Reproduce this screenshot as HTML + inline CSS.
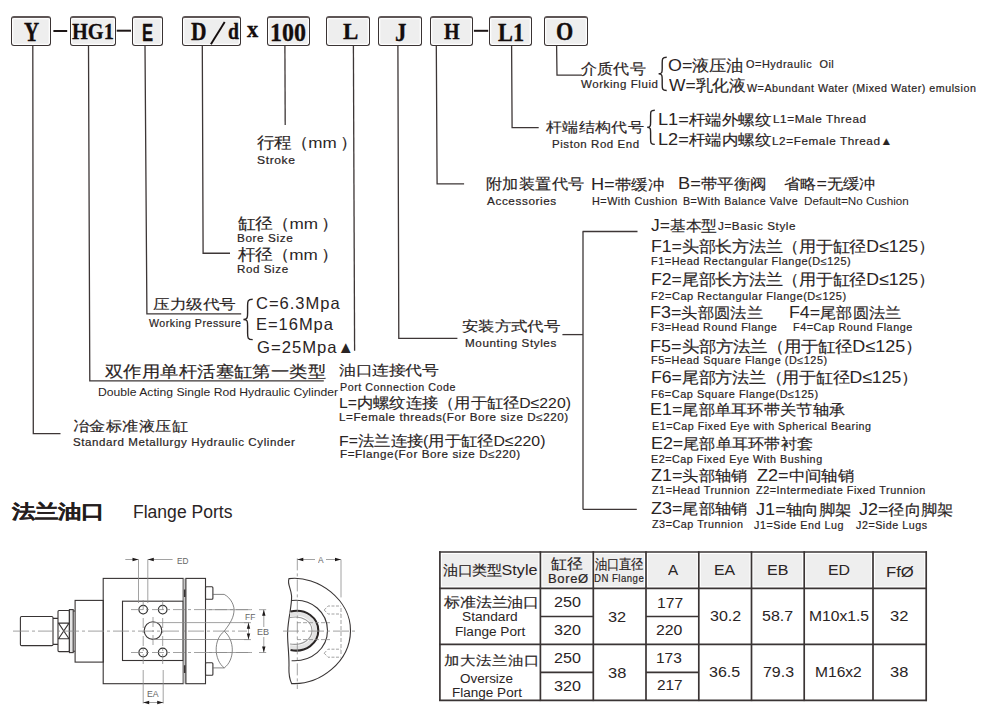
<!DOCTYPE html>
<html><head><meta charset="utf-8"><style>
html,body{margin:0;padding:0;background:#fff;}
body{width:1000px;height:712px;position:relative;overflow:hidden;}
.c{font-size:0.91em;-webkit-text-stroke:0.15px #2a2424;}
.c i{display:inline-block;width:1em;font-style:normal;text-align:center;}
.t{position:absolute;white-space:nowrap;line-height:1;transform-origin:0 0;}
.bx{position:absolute;box-sizing:border-box;border:1.5px solid #3a3333;border-top:2px solid #5e5656;border-radius:3px;background:#eeeeee;box-shadow:inset 0 0 0 1.3px #fdfdfd;}
svg{position:absolute;left:0;top:0;}
</style></head><body>
<div class="bx" style="left:11.2px;top:16.1px;width:39.6px;height:29.5px"></div>
<div class="bx" style="left:70.0px;top:16.1px;width:46.2px;height:29.5px"></div>
<div class="bx" style="left:132.3px;top:16.1px;width:30.6px;height:29.5px"></div>
<div class="bx" style="left:182.0px;top:16.1px;width:58.5px;height:29.5px"></div>
<div class="bx" style="left:266.7px;top:16.1px;width:43.5px;height:29.5px"></div>
<div class="bx" style="left:326.4px;top:16.1px;width:43.2px;height:29.5px"></div>
<div class="bx" style="left:377.9px;top:16.1px;width:43.7px;height:29.5px"></div>
<div class="bx" style="left:430.4px;top:16.1px;width:42.9px;height:29.5px"></div>
<div class="bx" style="left:489.2px;top:16.1px;width:42.6px;height:29.5px"></div>
<div class="bx" style="left:544.4px;top:16.1px;width:43.3px;height:29.5px"></div>
<svg width="1000" height="712" viewBox="0 0 1000 712">
<g fill="#1e1717"><rect x="53.4" y="30" width="13.8" height="2"/><rect x="116.7" y="29.7" width="14.3" height="2"/><rect x="473.9" y="29.8" width="14.3" height="2"/></g>
<line x1="210.9" y1="44.3" x2="224.7" y2="21.9" stroke="#140d0d" stroke-width="1.9"/>
<g fill="none" stroke="#3d3636" stroke-width="1.3"><path d="M32.8,45.6 L33.3,433.7 H60.5"/><path d="M88.5,45.6 L89.8,380.9 H323.8"/><path d="M145,45.6 L146.9,313.8 H241.2"/><path d="M202.3,45.6 L203.1,253.25 H230"/><path d="M284.9,45.6 L285.2,125"/><path d="M353.4,45.6 L354.6,350.8"/><path d="M397.9,45.6 L398.8,338.4 H457.4"/><path d="M436.3,45.6 L437.1,183.9 H464.1"/><path d="M511.6,45.6 L512.1,127.65 H538.7"/><path d="M556.6,45.6 L557,75.1 H581.9"/><path d="M583.0,231.5 V509.4"/><path d="M582.6,231.5 H637.5"/><path d="M583.0,509.4 H636.8"/><path d="M562.4,334.6 H583.0"/></g>
<g fill="none" stroke="#2a2424" stroke-width="1.4">
<path d="M666.7,57.2 C662.2,57.2 662.2,58.9 662.2,62.9 L662.2,68.2 C662.2,72.1 662.2,73.8 658.6,73.8 C662.2,73.8 662.2,75.6 662.2,79.5 L662.2,84.8 C662.2,88.8 662.2,90.5 666.7,90.5"/>
<path d="M654.8,110.2 C650.6,110.2 650.6,111.8 650.6,115.5 L650.6,122.0 C650.6,125.7 650.6,127.3 647.2,127.3 C650.6,127.3 650.6,128.9 650.6,132.6 L650.6,139.1 C650.6,142.8 650.6,144.4 654.8,144.4"/>
<path d="M252.7,299.3 C247.6,299.3 247.6,301.3 247.6,305.8 L247.6,312.9 C247.6,317.5 247.6,319.5 243.4,319.5 C247.6,319.5 247.6,321.4 247.6,326.0 L247.6,333.1 C247.6,337.6 247.6,339.6 252.7,339.6"/>
</g>
<g fill="#eeeeee">
<rect x="441.9" y="554.0" width="96.5" height="32.3"/>
<rect x="542.4" y="554.0" width="48.9" height="32.3"/>
<rect x="595.3" y="554.0" width="48.7" height="32.3"/>
<rect x="648.0" y="554.0" width="48.8" height="32.3"/>
<rect x="700.8" y="554.0" width="48.7" height="32.3"/>
<rect x="753.5" y="554.0" width="48.7" height="32.3"/>
<rect x="806.2" y="554.0" width="64.8" height="32.3"/>
<rect x="875.0" y="554.0" width="49.2" height="32.3"/>
</g>
<g stroke="#3a3434" stroke-width="1.7" fill="none">
<line x1="439.9" y1="551.2" x2="439.9" y2="701.1"/>
<line x1="540.4" y1="551.2" x2="540.4" y2="701.1"/>
<line x1="593.3" y1="551.2" x2="593.3" y2="701.1"/>
<line x1="646.0" y1="551.2" x2="646.0" y2="701.1"/>
<line x1="698.8" y1="551.2" x2="698.8" y2="701.1"/>
<line x1="751.5" y1="551.2" x2="751.5" y2="701.1"/>
<line x1="804.2" y1="551.2" x2="804.2" y2="701.1"/>
<line x1="873.0" y1="551.2" x2="873.0" y2="701.1"/>
<line x1="926.2" y1="551.2" x2="926.2" y2="701.1"/>
<line x1="439.1" y1="552.0" x2="927.0" y2="552.0"/>
<line x1="439.1" y1="588.3" x2="927.0" y2="588.3"/>
<line x1="439.1" y1="644.4" x2="927.0" y2="644.4"/>
<line x1="439.1" y1="700.3" x2="927.0" y2="700.3"/>
<line x1="540.4" y1="616.5" x2="593.3" y2="616.5"/>
<line x1="646.0" y1="616.5" x2="698.8" y2="616.5"/>
<line x1="540.4" y1="672.3" x2="593.3" y2="672.3"/>
<line x1="646.0" y1="672.3" x2="698.8" y2="672.3"/>
</g>
<g fill="none" stroke="#383434" stroke-width="1.1">
<rect x="20.4" y="616.5" width="32.6" height="29.1" rx="1.2"/>
<path d="M53,618.4 H58 M53,644.4 H58"/>
<rect x="58" y="610.5" width="11.4" height="41.1" rx="1"/>
<path d="M58,623.1 H69.4 M58,638.7 H69.4 M58.5,623.1 L69,638.7 M69,623.1 L58.5,638.7"/>
<rect x="69.4" y="609.6" width="3.8" height="43" fill="#e4e4e4"/>
<path d="M73.2,611 H75.1 M73.2,651.2 H75.1"/>
<rect x="75.1" y="600.4" width="28.2" height="61.7"/>
<rect x="103.2" y="578.4" width="80" height="105.3"/>
<rect x="122.5" y="601.2" width="60.7" height="59.3"/>
<rect x="183.6" y="578.4" width="2.2" height="105.3" fill="#c8c8c8" stroke="none"/>
<path d="M184.7,589.4 V597 M184.7,665.3 V672.9" stroke-width="1.6"/>
<rect x="185.9" y="578.4" width="19.6" height="105.3"/>
<rect x="205.5" y="586.7" width="7.4" height="12.5" rx="1"/>
<rect x="205.5" y="662.8" width="7.4" height="12.5" rx="1"/>
<circle cx="143.2" cy="609.6" r="4.3" stroke-width="1.2" stroke="#333"/>
<circle cx="143.2" cy="652.5" r="4.3" stroke-width="1.2" stroke="#333"/>
<circle cx="162.7" cy="609.6" r="4.3" stroke-width="1.2" stroke="#333"/>
<circle cx="162.7" cy="652.5" r="4.3" stroke-width="1.2" stroke="#333"/>
<circle cx="153" cy="630.6" r="8.8" stroke-width="1.1"/>
<path d="M212.9,594.4 H224.2 C231,598 235,606 233.9,612.2 C233,620 228,626 224.2,631.2 C235,640 235,660 224.2,667.9 C214,660 213,640 224.2,631.2 M224.2,667.9 H212.9" stroke="#666" stroke-width="0.8"/>
<path d="M289,578.6 C318,575 351,600 350.5,631 C350,662 320,685 291.6,683.6 C288,676 289,670 289,664.8 C289,650 287,640 287.7,631 C288,620 292,605 291.6,596 C291,588 287,584 289,578.6 Z"/>
<path d="M291.6,600.5 C312,598 327.5,613 327.5,630.6 C327.5,648 312,662 291.6,660.7"/>
<path d="M290,614.5 C305,611 315,620 315,630.6 C315,641 305,650 290,647" stroke-width="4" stroke="#e3e3e3"/>
<path d="M290.5,611.5 C306,608 318.3,618 318.3,630.6 C318.3,643 306,653 290.5,650" stroke-width="2.1" stroke="#2a2626"/>
<path d="M290,617.5 C303,615 312,622 312,630.6 C312,639 303,646 290,644" stroke="#999"/>
</g>
<g fill="none" stroke="#8a8a8a" stroke-width="0.8">
<path d="M13,631.1 H247 M283,631.1 H356" stroke-dasharray="16,3,3,3"/>
<path d="M131,609.6 H252 M131,652.5 H252" stroke-dasharray="12,3,3,3"/>
<path d="M153,622.6 H249.3 M153,639.5 H249.3 M205,609.7 H250.9 M205,652.5 H250.9"/>
<path d="M143.2,600 V665 M162.7,600 V665 M153,617 V645" stroke-dasharray="10,3,2,3"/>
<path d="M138.5,559.5 V603 M147.8,559.5 V603 M125.3,559.5 H138.5 M147.8,559.5 H172.6"/>
<path d="M143.2,670 V703.5 M163.2,670 V703.5 M143.2,702.5 H163.2"/>
<path d="M263.8,609.7 V627 M263.8,637 V652.5 M259,609.7 H266.2 M259,652.5 H266.2 M248.5,622.7 V639.6 M244,622.7 H251 M244,639.6 H251"/>
<path d="M297.3,558.4 V689" stroke-dasharray="12,3,3,3"/>
<path d="M341,559.5 V597.4 M297.3,559.5 H315 M326,559.5 H341"/>
<path d="M341,608 V655 M297,622.7 H330 M297,639.6 H330" stroke-dasharray="4,2"/>
<path d="M324.2,610 L328,606 H341 M324.2,610 L328,614 H341 M324.2,653.2 L328,649.2 H341 M324.2,653.2 L328,657.2 H341" stroke-dasharray="3,1.5"/>
</g>
<g fill="#1e1a1a">
<path d="M138.5,559.5 L132.5,557.8 V561.2 Z M147.8,559.5 L153.8,557.8 V561.2 Z"/>
<path d="M143.2,702.5 L149.2,700.8 V704.2 Z M163.2,702.5 L157.2,700.8 V704.2 Z"/>
<path d="M263.8,609.7 L262.1,615.7 H265.5 Z M263.8,652.5 L262.1,646.5 H265.5 Z"/>
<path d="M248.5,622.7 L246.8,628.7 H250.2 Z M248.5,639.6 L246.8,633.6 H250.2 Z"/>
<path d="M297.3,559.5 L303.3,557.8 V561.2 Z M341,559.5 L335,557.8 V561.2 Z"/>
</g>
</svg>
<div id="bY" lang="zh-CN" class="t" style="left:24.38px;top:17.84px;font-size:24.00px;font-family:'Liberation Serif',serif;font-weight:bold;color:#140d0d;-webkit-text-stroke:0.3px #140d0d;transform:scale(0.8773,1.1268);">Y</div>
<div id="bHG" lang="zh-CN" class="t" style="left:72.33px;top:18.53px;font-size:24.00px;font-family:'Liberation Serif',serif;font-weight:bold;color:#140d0d;-webkit-text-stroke:0.3px #140d0d;transform:scale(0.8476,0.9873);">HG1</div>
<div id="bE" class="t" style="left:142.30px;top:20.72px;font-size:24.00px;font-family:'Liberation Sans',sans-serif;font-weight:bold;color:#140d0d;-webkit-text-stroke:0.3px #140d0d;transform:scale(0.6927,1.0160);">E</div>
<div id="bD" lang="zh-CN" class="t" style="left:191.25px;top:19.31px;font-size:24.00px;font-family:'Liberation Serif',serif;font-weight:bold;color:#140d0d;-webkit-text-stroke:0.3px #140d0d;transform:scale(0.8964,1.0402);">D</div>
<div id="bd" lang="zh-CN" class="t" style="left:227.73px;top:19.09px;font-size:24.00px;font-family:'Liberation Serif',serif;font-weight:bold;color:#140d0d;-webkit-text-stroke:0.3px #140d0d;transform:scale(0.8199,0.9871);">d</div>
<div id="bx" lang="zh-CN" class="t" style="left:247.41px;top:16.73px;font-size:20.00px;font-family:'Liberation Serif',serif;font-weight:bold;color:#140d0d;-webkit-text-stroke:0.3px #140d0d;transform:scale(1.1176,1.1807);">x</div>
<div id="b100" lang="zh-CN" class="t" style="left:269.66px;top:20.52px;font-size:24.00px;font-family:'Liberation Serif',serif;font-weight:bold;color:#140d0d;-webkit-text-stroke:0.3px #140d0d;transform:scale(0.9985,1.0063);">100</div>
<div id="bL" lang="zh-CN" class="t" style="left:342.74px;top:19.41px;font-size:24.00px;font-family:'Liberation Serif',serif;font-weight:bold;color:#140d0d;-webkit-text-stroke:0.3px #140d0d;transform:scale(0.9590,0.9958);">L</div>
<div id="bJ" lang="zh-CN" class="t" style="left:395.02px;top:20.06px;font-size:24.00px;font-family:'Liberation Serif',serif;font-weight:bold;color:#140d0d;-webkit-text-stroke:0.3px #140d0d;transform:scale(0.9535,1.0486);">J</div>
<div id="bH" lang="zh-CN" class="t" style="left:443.81px;top:19.41px;font-size:24.00px;font-family:'Liberation Serif',serif;font-weight:bold;color:#140d0d;-webkit-text-stroke:0.3px #140d0d;transform:scale(0.8377,0.9958);">H</div>
<div id="bL1" lang="zh-CN" class="t" style="left:498.12px;top:19.00px;font-size:24.00px;font-family:'Liberation Serif',serif;font-weight:bold;color:#140d0d;-webkit-text-stroke:0.3px #140d0d;transform:scale(0.9305,1.0802);">L1</div>
<div id="bO" lang="zh-CN" class="t" style="left:556.08px;top:17.87px;font-size:24.00px;font-family:'Liberation Serif',serif;font-weight:bold;color:#140d0d;-webkit-text-stroke:0.3px #140d0d;transform:scale(0.9251,1.0768);">O</div>
<div id="fl_cn" class="t" style="left:580.67px;top:60.23px;font-size:16.00px;font-family:'Liberation Sans',sans-serif;color:#2a2424;transform:scale(1.1170,1.0443);"><span class="c" style="font-size:0.910em"><i>介</i><i>质</i><i>代</i><i>号</i></span></div>
<div id="fl_en" class="t" style="left:581.25px;top:79.07px;font-size:11.00px;font-family:'Liberation Sans',sans-serif;color:#2a2424;letter-spacing:0.05em;-webkit-text-stroke:0.2px #2a2424;transform:scale(1.0442,1.0000);">Working Fluid</div>
<div id="o_cn" class="t" style="left:668.17px;top:57.23px;font-size:16.50px;font-family:'Liberation Sans',sans-serif;color:#2a2424;transform:scale(1.0820,1.0000);">O=<span class="c" style="font-size:0.950em"><i>液</i><i>压</i><i>油</i></span></div>
<div id="o_en" class="t" style="left:746.30px;top:59.43px;font-size:11.00px;font-family:'Liberation Sans',sans-serif;color:#2a2424;letter-spacing:0.05em;-webkit-text-stroke:0.2px #2a2424;transform:scale(0.9905,1.0000);">O=Hydraulic&nbsp; Oil</div>
<div id="w_cn" class="t" style="left:669.45px;top:77.46px;font-size:16.50px;font-family:'Liberation Sans',sans-serif;color:#2a2424;transform:scale(1.0559,1.0000);">W=<span class="c" style="font-size:0.950em"><i>乳</i><i>化</i><i>液</i></span></div>
<div id="w_en" class="t" style="left:747.07px;top:83.24px;font-size:10.50px;font-family:'Liberation Sans',sans-serif;color:#2a2424;letter-spacing:0.05em;-webkit-text-stroke:0.2px #2a2424;transform:scale(1.0176,1.0000);">W=Abundant Water (Mixed Water) emulsion</div>
<div id="re_cn" class="t" style="left:546.02px;top:119.45px;font-size:15.50px;font-family:'Liberation Sans',sans-serif;color:#2a2424;transform:scale(1.1597,1.0098);"><span class="c" style="font-size:0.910em"><i>杆</i><i>端</i><i>结</i><i>构</i><i>代</i><i>号</i></span></div>
<div id="re_en" class="t" style="left:551.67px;top:138.85px;font-size:11.30px;font-family:'Liberation Sans',sans-serif;color:#2a2424;letter-spacing:0.05em;-webkit-text-stroke:0.2px #2a2424;transform:scale(1.0144,1.0000);">Piston Rod End</div>
<div id="l1_cn" class="t" style="left:658.33px;top:110.66px;font-size:16.50px;font-family:'Liberation Sans',sans-serif;color:#2a2424;transform:scale(1.0968,1.0000);">L1=<span class="c" style="font-size:0.910em"><i>杆</i><i>端</i><i>外</i><i>螺</i><i>纹</i></span></div>
<div id="l1_en" class="t" style="left:772.99px;top:114.10px;font-size:11.30px;font-family:'Liberation Sans',sans-serif;color:#2a2424;letter-spacing:0.05em;-webkit-text-stroke:0.2px #2a2424;transform:scale(1.0375,1.0000);">L1=Male Thread</div>
<div id="l2_cn" class="t" style="left:658.33px;top:130.56px;font-size:16.50px;font-family:'Liberation Sans',sans-serif;color:#2a2424;transform:scale(1.0968,1.0000);">L2=<span class="c" style="font-size:0.910em"><i>杆</i><i>端</i><i>内</i><i>螺</i><i>纹</i></span></div>
<div id="l2_en" class="t" style="left:772.37px;top:135.64px;font-size:11.00px;font-family:'Liberation Sans',sans-serif;color:#2a2424;letter-spacing:0.05em;-webkit-text-stroke:0.2px #2a2424;transform:scale(1.0660,1.0000);">L2=Female Thread▲</div>
<div id="st_cn" class="t" style="left:257.16px;top:134.56px;font-size:15.50px;font-family:'Liberation Sans',sans-serif;color:#2a2424;transform:scale(1.1007,1.0000);"><span class="c" style="font-size:1.000em"><i>行</i><i>程</i><i>（</i></span>mm&thinsp;<span class="c" style="font-size:1.000em"><i>）</i></span></div>
<div id="st_en" class="t" style="left:256.99px;top:154.57px;font-size:11.00px;font-family:'Liberation Sans',sans-serif;color:#2a2424;letter-spacing:0.05em;-webkit-text-stroke:0.2px #2a2424;transform:scale(1.0999,1.0000);">Stroke</div>
<div id="ac_cn" class="t" style="left:485.98px;top:175.12px;font-size:15.50px;font-family:'Liberation Sans',sans-serif;color:#2a2424;transform:scale(1.1616,1.0768);"><span class="c" style="font-size:0.910em"><i>附</i><i>加</i><i>装</i><i>置</i><i>代</i><i>号</i></span></div>
<div id="ac_en" class="t" style="left:486.95px;top:196.34px;font-size:10.50px;font-family:'Liberation Sans',sans-serif;color:#2a2424;letter-spacing:0.05em;-webkit-text-stroke:0.2px #2a2424;transform:scale(1.1195,1.0000);">Accessories</div>
<div id="h_cn" class="t" style="left:591.06px;top:175.69px;font-size:16.50px;font-family:'Liberation Sans',sans-serif;color:#2a2424;transform:scale(1.1011,1.0000);">H=<span class="c" style="font-size:0.910em"><i>带</i><i>缓</i><i>冲</i></span></div>
<div id="b_cn" class="t" style="left:677.78px;top:174.84px;font-size:16.50px;font-family:'Liberation Sans',sans-serif;color:#2a2424;transform:scale(1.1034,1.0000);">B=<span class="c" style="font-size:0.910em"><i>带</i><i>平</i><i>衡</i><i>阀</i></span></div>
<div id="d_cn" class="t" style="left:783.51px;top:175.16px;font-size:16.50px;font-family:'Liberation Sans',sans-serif;color:#2a2424;transform:scale(1.0822,1.0000);"><span class="c" style="font-size:0.910em"><i>省</i><i>略</i></span>=<span class="c" style="font-size:0.910em"><i>无</i><i>缓</i><i>冲</i></span></div>
<div id="h_en" class="t" style="left:591.68px;top:196.47px;font-size:11.00px;font-family:'Liberation Sans',sans-serif;color:#2a2424;letter-spacing:0.05em;-webkit-text-stroke:0.2px #2a2424;transform:scale(0.9799,1.0000);">H=With Cushion</div>
<div id="b_en" class="t" style="left:682.61px;top:196.02px;font-size:11.00px;font-family:'Liberation Sans',sans-serif;color:#2a2424;letter-spacing:0.05em;-webkit-text-stroke:0.2px #2a2424;transform:scale(0.9644,1.0000);">B=With Balance Valve</div>
<div id="d_en" class="t" style="left:803.95px;top:196.27px;font-size:11.00px;font-family:'Liberation Sans',sans-serif;color:#2a2424;transform:scale(1.0609,1.0000);">Default=No Cushion</div>
<div id="bo_cn" class="t" style="left:238.46px;top:215.58px;font-size:15.50px;font-family:'Liberation Sans',sans-serif;color:#2a2424;transform:scale(1.1059,1.0000);"><span class="c" style="font-size:1.000em"><i>缸</i><i>径</i><i>（</i></span>mm&thinsp;<span class="c" style="font-size:1.000em"><i>）</i></span></div>
<div id="bo_en" class="t" style="left:237.49px;top:232.83px;font-size:10.80px;font-family:'Liberation Sans',sans-serif;color:#2a2424;letter-spacing:0.05em;-webkit-text-stroke:0.2px #2a2424;transform:scale(1.0890,1.0000);">Bore Size</div>
<div id="ro_cn" class="t" style="left:237.96px;top:246.90px;font-size:15.50px;font-family:'Liberation Sans',sans-serif;color:#2a2424;transform:scale(1.1032,1.0000);"><span class="c" style="font-size:1.000em"><i>杆</i><i>径</i><i>（</i></span>mm&thinsp;<span class="c" style="font-size:1.000em"><i>）</i></span></div>
<div id="ro_en" class="t" style="left:237.44px;top:263.63px;font-size:10.80px;font-family:'Liberation Sans',sans-serif;color:#2a2424;letter-spacing:0.05em;-webkit-text-stroke:0.2px #2a2424;transform:scale(1.0738,1.0000);">Rod Size</div>
<div id="pr_cn" class="t" style="left:153.35px;top:295.81px;font-size:15.50px;font-family:'Liberation Sans',sans-serif;color:#2a2424;transform:scale(1.1708,0.9862);"><span class="c" style="font-size:0.910em"><i>压</i><i>力</i><i>级</i><i>代</i><i>号</i></span></div>
<div id="pr_en" class="t" style="left:148.95px;top:318.12px;font-size:10.90px;font-family:'Liberation Sans',sans-serif;color:#2a2424;letter-spacing:0.05em;-webkit-text-stroke:0.2px #2a2424;transform:scale(0.9723,1.0000);">Working Pressure</div>
<div id="pC" class="t" style="left:256.37px;top:294.84px;font-size:16.50px;font-family:'Liberation Sans',sans-serif;color:#2a2424;letter-spacing:0.06em;transform:scale(1.0005,1.0000);">C=6.3Mpa</div>
<div id="pE" class="t" style="left:256.22px;top:316.44px;font-size:16.50px;font-family:'Liberation Sans',sans-serif;color:#2a2424;letter-spacing:0.06em;transform:scale(0.9987,1.0000);">E=16Mpa</div>
<div id="pG" class="t" style="left:256.68px;top:339.04px;font-size:16.50px;font-family:'Liberation Sans',sans-serif;color:#2a2424;letter-spacing:0.06em;transform:scale(1.0095,1.0000);">G=25Mpa▲</div>
<div id="da_cn" class="t" style="left:105.22px;top:361.57px;font-size:16.50px;font-family:'Liberation Sans',sans-serif;color:#2a2424;transform:scale(1.2282,1.0730);"><span class="c" style="font-size:0.910em"><i>双</i><i>作</i><i>用</i><i>单</i><i>杆</i><i>活</i><i>塞</i><i>缸</i><i>第</i><i>一</i><i>类</i><i>型</i></span></div>
<div id="da_en" class="t" style="left:98.25px;top:386.94px;font-size:10.80px;font-family:'Liberation Sans',sans-serif;color:#2a2424;transform:scale(1.1267,1.0000);">Double Acting Single Rod Hydraulic Cylinder</div>
<div id="sm_cn" class="t" style="left:72.51px;top:417.74px;font-size:16.50px;font-family:'Liberation Sans',sans-serif;color:#2a2424;transform:scale(1.0947,0.9492);"><span class="c" style="font-size:0.910em"><i>冶</i><i>金</i><i>标</i><i>准</i><i>液</i><i>压</i><i>缸</i></span></div>
<div id="sm_en" class="t" style="left:72.81px;top:436.64px;font-size:11.00px;font-family:'Liberation Sans',sans-serif;color:#2a2424;letter-spacing:0.05em;-webkit-text-stroke:0.2px #2a2424;transform:scale(1.0507,1.0000);">Standard Metallurgy Hydraulic Cylinder</div>
<div id="pc_cn" class="t" style="left:339.06px;top:361.95px;font-size:15.50px;font-family:'Liberation Sans',sans-serif;color:#2a2424;transform:scale(1.1717,0.9720);"><span class="c" style="font-size:0.910em"><i>油</i><i>口</i><i>连</i><i>接</i><i>代</i><i>号</i></span></div>
<div id="pc_en" class="t" style="left:339.64px;top:381.63px;font-size:11.00px;font-family:'Liberation Sans',sans-serif;color:#2a2424;letter-spacing:0.05em;-webkit-text-stroke:0.2px #2a2424;transform:scale(0.9721,1.0000);">Port Connection Code</div>
<div id="pl_cn" class="t" style="left:339.41px;top:396.45px;font-size:14.50px;font-family:'Liberation Sans',sans-serif;color:#2a2424;transform:scale(1.0877,1.0000);">L=<span class="c" style="font-size:1.030em"><i>内</i><i>螺</i><i>纹</i><i>连</i><i>接</i><i>（</i><i>用</i><i>于</i><i>缸</i><i>径</i></span>D≤220)</div>
<div id="pl_en" class="t" style="left:339.27px;top:412.08px;font-size:10.50px;font-family:'Liberation Sans',sans-serif;color:#2a2424;letter-spacing:0.05em;-webkit-text-stroke:0.2px #2a2424;transform:scale(1.1070,1.0000);">L=Female threads(For Bore size D≤220)</div>
<div id="pf_cn" class="t" style="left:339.38px;top:434.29px;font-size:14.50px;font-family:'Liberation Sans',sans-serif;color:#2a2424;transform:scale(1.0923,1.0000);">F=<span class="c" style="font-size:1.030em"><i>法</i><i>兰</i><i>连</i><i>接</i></span>(<span class="c" style="font-size:1.030em"><i>用</i><i>于</i><i>缸</i><i>径</i></span>D≤220)</div>
<div id="pf_en" class="t" style="left:339.85px;top:449.49px;font-size:10.50px;font-family:'Liberation Sans',sans-serif;color:#2a2424;letter-spacing:0.05em;-webkit-text-stroke:0.2px #2a2424;transform:scale(1.1088,1.0000);">F=Flange(For Bore size D≤220)</div>
<div id="ms_cn" class="t" style="left:461.74px;top:318.33px;font-size:15.50px;font-family:'Liberation Sans',sans-serif;color:#2a2424;transform:scale(1.1568,0.9831);"><span class="c" style="font-size:0.910em"><i>安</i><i>装</i><i>方</i><i>式</i><i>代</i><i>号</i></span></div>
<div id="ms_en" class="t" style="left:465.43px;top:338.36px;font-size:10.50px;font-family:'Liberation Sans',sans-serif;color:#2a2424;letter-spacing:0.05em;-webkit-text-stroke:0.2px #2a2424;transform:scale(1.1121,1.0000);">Mounting Styles</div>
<div id="mJ_cn" class="t" style="left:650.99px;top:216.77px;font-size:16.50px;font-family:'Liberation Sans',sans-serif;color:#2a2424;transform:scale(1.0542,1.0000);">J=<span class="c" style="font-size:0.910em"><i>基</i><i>本</i><i>型</i></span></div>
<div id="mJ_en" class="t" style="left:718.46px;top:221.01px;font-size:11.30px;font-family:'Liberation Sans',sans-serif;color:#2a2424;letter-spacing:0.05em;-webkit-text-stroke:0.2px #2a2424;transform:scale(1.0354,1.0000);">J=Basic Style</div>
<div id="mF1_cn" class="t" style="left:650.69px;top:238.25px;font-size:16.50px;font-family:'Liberation Sans',sans-serif;color:#2a2424;transform:scale(1.0691,1.0000);">F1=<span class="c" style="font-size:0.950em"><i>头</i><i>部</i><i>长</i><i>方</i><i>法</i><i>兰</i><i>（</i><i>用</i><i>于</i><i>缸</i><i>径</i></span>D≤125<span class="c" style="font-size:0.950em"><i>）</i></span></div>
<div id="mF1_en" class="t" style="left:651.12px;top:256.19px;font-size:10.50px;font-family:'Liberation Sans',sans-serif;color:#2a2424;letter-spacing:0.05em;-webkit-text-stroke:0.2px #2a2424;transform:scale(1.0358,1.0000);">F1=Head Rectangular Flange(D≤125)</div>
<div id="mF2_cn" class="t" style="left:650.69px;top:271.25px;font-size:16.50px;font-family:'Liberation Sans',sans-serif;color:#2a2424;transform:scale(1.0691,1.0000);">F2=<span class="c" style="font-size:0.950em"><i>尾</i><i>部</i><i>长</i><i>方</i><i>法</i><i>兰</i><i>（</i><i>用</i><i>于</i><i>缸</i><i>径</i></span>D≤125<span class="c" style="font-size:0.950em"><i>）</i></span></div>
<div id="mF2_en" class="t" style="left:651.20px;top:290.84px;font-size:10.50px;font-family:'Liberation Sans',sans-serif;color:#2a2424;letter-spacing:0.05em;-webkit-text-stroke:0.2px #2a2424;transform:scale(1.0469,1.0000);">F2=Cap Rectangular Flange(D≤125)</div>
<div id="mF3_cn" class="t" style="left:650.27px;top:304.23px;font-size:16.50px;font-family:'Liberation Sans',sans-serif;color:#2a2424;transform:scale(1.0857,1.0000);">F3=<span class="c" style="font-size:0.910em"><i>头</i><i>部</i><i>圆</i><i>法</i><i>兰</i></span></div>
<div id="mF4_cn" class="t" style="left:789.11px;top:304.01px;font-size:16.50px;font-family:'Liberation Sans',sans-serif;color:#2a2424;transform:scale(1.0785,1.0000);">F4=<span class="c" style="font-size:0.910em"><i>尾</i><i>部</i><i>圆</i><i>法</i><i>兰</i></span></div>
<div id="mF3_en" class="t" style="left:651.20px;top:322.01px;font-size:10.50px;font-family:'Liberation Sans',sans-serif;color:#2a2424;letter-spacing:0.05em;-webkit-text-stroke:0.2px #2a2424;transform:scale(1.0288,1.0000);">F3=Head Round Flange</div>
<div id="mF4_en" class="t" style="left:792.59px;top:322.21px;font-size:10.50px;font-family:'Liberation Sans',sans-serif;color:#2a2424;letter-spacing:0.05em;-webkit-text-stroke:0.2px #2a2424;transform:scale(1.0282,1.0000);">F4=Cap Round Flange</div>
<div id="mF5_cn" class="t" style="left:650.40px;top:337.50px;font-size:16.50px;font-family:'Liberation Sans',sans-serif;color:#2a2424;transform:scale(1.0900,1.0000);">F5=<span class="c" style="font-size:0.950em"><i>头</i><i>部</i><i>方</i><i>法</i><i>兰</i><i>（</i><i>用</i><i>于</i><i>缸</i><i>径</i></span>D≤125<span class="c" style="font-size:0.950em"><i>）</i></span></div>
<div id="mF5_en" class="t" style="left:651.18px;top:354.65px;font-size:10.50px;font-family:'Liberation Sans',sans-serif;color:#2a2424;letter-spacing:0.05em;-webkit-text-stroke:0.2px #2a2424;transform:scale(1.0310,1.0000);">F5=Head Square Flange (D≤125)</div>
<div id="mF6_cn" class="t" style="left:651.19px;top:369.34px;font-size:16.50px;font-family:'Liberation Sans',sans-serif;color:#2a2424;transform:scale(1.0689,1.0000);">F6=<span class="c" style="font-size:0.950em"><i>尾</i><i>部</i><i>方</i><i>法</i><i>兰</i><i>（</i><i>用</i><i>于</i><i>缸</i><i>径</i></span>D≤125<span class="c" style="font-size:0.950em"><i>）</i></span></div>
<div id="mF6_en" class="t" style="left:651.02px;top:389.36px;font-size:10.50px;font-family:'Liberation Sans',sans-serif;color:#2a2424;letter-spacing:0.05em;-webkit-text-stroke:0.2px #2a2424;transform:scale(1.0378,1.0000);">F6=Cap Square Flange(D≤125)</div>
<div id="mE1_cn" class="t" style="left:650.07px;top:401.03px;font-size:16.50px;font-family:'Liberation Sans',sans-serif;color:#2a2424;transform:scale(1.0848,1.0000);">E1=<span class="c" style="font-size:0.910em"><i>尾</i><i>部</i><i>单</i><i>耳</i><i>环</i><i>带</i><i>关</i><i>节</i><i>轴</i><i>承</i></span></div>
<div id="mE1_en" class="t" style="left:651.51px;top:420.71px;font-size:10.60px;font-family:'Liberation Sans',sans-serif;color:#2a2424;letter-spacing:0.05em;-webkit-text-stroke:0.2px #2a2424;transform:scale(1.0088,1.0000);">E1=Cap Fixed Eye with Spherical Bearing</div>
<div id="mE2_cn" class="t" style="left:651.15px;top:434.62px;font-size:16.50px;font-family:'Liberation Sans',sans-serif;color:#2a2424;transform:scale(1.0814,1.0000);">E2=<span class="c" style="font-size:0.910em"><i>尾</i><i>部</i><i>单</i><i>耳</i><i>环</i><i>带</i><i>衬</i><i>套</i></span></div>
<div id="mE2_en" class="t" style="left:650.89px;top:453.50px;font-size:10.60px;font-family:'Liberation Sans',sans-serif;color:#2a2424;letter-spacing:0.05em;-webkit-text-stroke:0.2px #2a2424;transform:scale(1.0135,1.0000);">E2=Cap Fixed Eye With Bushing</div>
<div id="mZ1_cn" class="t" style="left:651.45px;top:467.32px;font-size:16.50px;font-family:'Liberation Sans',sans-serif;color:#2a2424;transform:scale(1.0860,1.0000);">Z1=<span class="c" style="font-size:0.910em"><i>头</i><i>部</i><i>轴</i><i>销</i></span></div>
<div id="mZ2_cn" class="t" style="left:756.72px;top:467.39px;font-size:16.50px;font-family:'Liberation Sans',sans-serif;color:#2a2424;transform:scale(1.0944,1.0000);">Z2=<span class="c" style="font-size:0.910em"><i>中</i><i>间</i><i>轴</i><i>销</i></span></div>
<div id="mZ1_en" class="t" style="left:652.20px;top:485.34px;font-size:10.80px;font-family:'Liberation Sans',sans-serif;color:#2a2424;letter-spacing:0.05em;-webkit-text-stroke:0.2px #2a2424;transform:scale(0.9982,1.0000);">Z1=Head Trunnion</div>
<div id="mZ2_en" class="t" style="left:755.52px;top:485.37px;font-size:10.80px;font-family:'Liberation Sans',sans-serif;color:#2a2424;letter-spacing:0.05em;-webkit-text-stroke:0.2px #2a2424;transform:scale(1.0021,1.0000);">Z2=Intermediate Fixed Trunnion</div>
<div id="mZ3_cn" class="t" style="left:651.45px;top:500.32px;font-size:16.50px;font-family:'Liberation Sans',sans-serif;color:#2a2424;transform:scale(1.0860,1.0000);">Z3=<span class="c" style="font-size:0.910em"><i>尾</i><i>部</i><i>轴</i><i>销</i></span></div>
<div id="mJ1_cn" class="t" style="left:755.62px;top:500.81px;font-size:16.50px;font-family:'Liberation Sans',sans-serif;color:#2a2424;transform:scale(1.0998,1.0000);">J1=<span class="c" style="font-size:0.910em"><i>轴</i><i>向</i><i>脚</i><i>架</i></span></div>
<div id="mJ2_cn" class="t" style="left:859.33px;top:500.51px;font-size:16.50px;font-family:'Liberation Sans',sans-serif;color:#2a2424;transform:scale(1.0877,1.0000);">J2=<span class="c" style="font-size:0.910em"><i>径</i><i>向</i><i>脚</i><i>架</i></span></div>
<div id="mZ3_en" class="t" style="left:651.71px;top:519.17px;font-size:10.80px;font-family:'Liberation Sans',sans-serif;color:#2a2424;letter-spacing:0.05em;-webkit-text-stroke:0.2px #2a2424;transform:scale(0.9968,1.0000);">Z3=Cap Trunnion</div>
<div id="mJ1_en" class="t" style="left:754.00px;top:519.69px;font-size:10.80px;font-family:'Liberation Sans',sans-serif;color:#2a2424;letter-spacing:0.05em;-webkit-text-stroke:0.2px #2a2424;transform:scale(0.9936,1.0000);">J1=Side End Lug</div>
<div id="mJ2_en" class="t" style="left:856.29px;top:519.65px;font-size:10.80px;font-family:'Liberation Sans',sans-serif;color:#2a2424;letter-spacing:0.05em;-webkit-text-stroke:0.2px #2a2424;transform:scale(0.9915,1.0000);">J2=Side Lugs</div>
<div id="fp_cn" lang="zh-CN" class="t" style="left:11.85px;top:501.03px;font-size:20.00px;font-family:'Liberation Serif',serif;font-weight:bold;color:#140d0d;-webkit-text-stroke:0.3px #140d0d;transform:scale(1.2691,1.0254);"><span class="c" style="font-size:0.910em"><i>法</i><i>兰</i><i>油</i><i>口</i></span></div>
<div id="fp_en" class="t" style="left:133.00px;top:504.36px;font-size:17.50px;font-family:'Liberation Sans',sans-serif;color:#2a2424;transform:scale(1.0023,1.0000);">Flange Ports</div>
<div id="dED" class="t" style="left:177.03px;top:556.60px;font-size:8.80px;font-family:'Liberation Sans',sans-serif;color:#666;transform:scale(0.9351,1.0000);">ED</div>
<div id="dEA" class="t" style="left:147.39px;top:689.80px;font-size:8.80px;font-family:'Liberation Sans',sans-serif;color:#666;transform:scale(0.9932,1.0000);">EA</div>
<div id="dEB" class="t" style="left:257.25px;top:628.00px;font-size:8.80px;font-family:'Liberation Sans',sans-serif;color:#666;transform:scale(1.0321,1.0000);">EB</div>
<div id="dFF" class="t" style="left:244.61px;top:613.55px;font-size:8.20px;font-family:'Liberation Sans',sans-serif;color:#666;transform:scale(1.0274,1.0000);">FF</div>
<div id="dA" class="t" style="left:318.12px;top:556.88px;font-size:8.20px;font-family:'Liberation Sans',sans-serif;color:#666;transform:scale(1.0190,1.0000);">A</div>
<div id="th1" class="t" style="left:442.98px;top:562.17px;font-size:15.00px;font-family:'Liberation Sans',sans-serif;color:#2a2424;transform:scale(1.0743,1.0000);"><span class="c" style="font-size:0.910em"><i>油</i><i>口</i><i>类</i><i>型</i></span>Style</div>
<div id="th2a" class="t" style="left:550.86px;top:555.40px;font-size:15.00px;font-family:'Liberation Sans',sans-serif;color:#2a2424;transform:scale(1.1414,1.0836);"><span class="c" style="font-size:0.910em"><i>缸</i><i>径</i></span></div>
<div id="th2b" class="t" style="left:547.69px;top:572.56px;font-size:12.00px;font-family:'Liberation Sans',sans-serif;color:#2a2424;letter-spacing:0.05em;-webkit-text-stroke:0.2px #2a2424;transform:scale(1.0841,1.0000);">BoreØ</div>
<div id="th3a" class="t" style="left:595.27px;top:557.29px;font-size:12.50px;font-family:'Liberation Sans',sans-serif;color:#2a2424;transform:scale(1.0579,1.1983);"><span class="c" style="font-size:0.910em"><i>油</i><i>口</i><i>直</i><i>径</i></span></div>
<div id="th3b" class="t" style="left:594.48px;top:572.99px;font-size:11.50px;font-family:'Liberation Sans',sans-serif;color:#2a2424;letter-spacing:0.05em;-webkit-text-stroke:0.2px #2a2424;transform:scale(0.8355,1.0000);">DN Flange</div>
<div id="thA" class="t" style="left:667.52px;top:562.95px;font-size:14.50px;font-family:'Liberation Sans',sans-serif;color:#2a2424;transform:scale(1.0514,1.0000);">A</div>
<div id="thEA" class="t" style="left:714.38px;top:563.04px;font-size:14.50px;font-family:'Liberation Sans',sans-serif;color:#2a2424;transform:scale(1.0942,1.0000);">EA</div>
<div id="thEB" class="t" style="left:766.71px;top:563.04px;font-size:14.50px;font-family:'Liberation Sans',sans-serif;color:#2a2424;transform:scale(1.1032,1.0000);">EB</div>
<div id="thED" class="t" style="left:827.87px;top:563.04px;font-size:14.50px;font-family:'Liberation Sans',sans-serif;color:#2a2424;transform:scale(1.0947,1.0000);">ED</div>
<div id="thFf" class="t" style="left:886.16px;top:564.54px;font-size:14.50px;font-family:'Liberation Sans',sans-serif;color:#2a2424;transform:scale(1.1492,1.0000);">FfØ</div>
<div id="r1a" class="t" style="left:444.46px;top:594.15px;font-size:15.00px;font-family:'Liberation Sans',sans-serif;color:#2a2424;transform:scale(1.1628,1.0135);"><span class="c" style="font-size:0.910em"><i>标</i><i>准</i><i>法</i><i>兰</i><i>油</i><i>口</i></span></div>
<div id="r1b" class="t" style="left:462.36px;top:611.34px;font-size:12.50px;font-family:'Liberation Sans',sans-serif;color:#2a2424;transform:scale(1.0975,1.0000);">Standard</div>
<div id="r1c" class="t" style="left:455.13px;top:625.74px;font-size:12.50px;font-family:'Liberation Sans',sans-serif;color:#2a2424;transform:scale(1.0878,1.0000);">Flange Port</div>
<div id="r2a" class="t" style="left:444.11px;top:651.77px;font-size:15.00px;font-family:'Liberation Sans',sans-serif;color:#2a2424;transform:scale(1.1708,0.9878);"><span class="c" style="font-size:0.910em"><i>加</i><i>大</i><i>法</i><i>兰</i><i>油</i><i>口</i></span></div>
<div id="r2b" class="t" style="left:460.49px;top:673.13px;font-size:12.50px;font-family:'Liberation Sans',sans-serif;color:#2a2424;transform:scale(1.0756,1.0000);">Oversize</div>
<div id="r2c" class="t" style="left:451.85px;top:686.74px;font-size:12.50px;font-family:'Liberation Sans',sans-serif;color:#2a2424;transform:scale(1.0821,1.0000);">Flange Port</div>
<div id="c250a" class="t" style="left:554.12px;top:594.41px;font-size:15.00px;font-family:'Liberation Sans',sans-serif;color:#2a2424;transform:scale(1.0744,1.0000);">250</div>
<div id="c320a" class="t" style="left:553.79px;top:622.01px;font-size:15.00px;font-family:'Liberation Sans',sans-serif;color:#2a2424;transform:scale(1.0752,1.0000);">320</div>
<div id="c250b" class="t" style="left:554.12px;top:650.21px;font-size:15.00px;font-family:'Liberation Sans',sans-serif;color:#2a2424;transform:scale(1.0744,1.0000);">250</div>
<div id="c320b" class="t" style="left:553.79px;top:677.81px;font-size:15.00px;font-family:'Liberation Sans',sans-serif;color:#2a2424;transform:scale(1.0752,1.0000);">320</div>
<div id="c32" class="t" style="left:608.08px;top:608.71px;font-size:15.00px;font-family:'Liberation Sans',sans-serif;color:#2a2424;transform:scale(1.0899,1.0000);">32</div>
<div id="c38" class="t" style="left:607.70px;top:664.51px;font-size:15.00px;font-family:'Liberation Sans',sans-serif;color:#2a2424;transform:scale(1.0952,1.0000);">38</div>
<div id="a177" class="t" style="left:656.62px;top:595.54px;font-size:14.50px;font-family:'Liberation Sans',sans-serif;color:#2a2424;transform:scale(1.0811,1.0000);">177</div>
<div id="a220" class="t" style="left:656.01px;top:623.24px;font-size:14.50px;font-family:'Liberation Sans',sans-serif;color:#2a2424;transform:scale(1.0907,1.0000);">220</div>
<div id="a173" class="t" style="left:656.47px;top:650.64px;font-size:14.50px;font-family:'Liberation Sans',sans-serif;color:#2a2424;transform:scale(1.0679,1.0000);">173</div>
<div id="a217" class="t" style="left:656.87px;top:678.14px;font-size:14.50px;font-family:'Liberation Sans',sans-serif;color:#2a2424;transform:scale(1.0611,1.0000);">217</div>
<div id="ea1" class="t" style="left:709.89px;top:609.34px;font-size:14.50px;font-family:'Liberation Sans',sans-serif;color:#2a2424;transform:scale(1.1048,1.0000);">30.2</div>
<div id="eb1" class="t" style="left:762.12px;top:609.34px;font-size:14.50px;font-family:'Liberation Sans',sans-serif;color:#2a2424;transform:scale(1.1037,1.0000);">58.7</div>
<div id="ed1" class="t" style="left:808.55px;top:609.34px;font-size:14.50px;font-family:'Liberation Sans',sans-serif;color:#2a2424;transform:scale(1.0796,1.0000);">M10x1.5</div>
<div id="ff1" class="t" style="left:889.95px;top:609.34px;font-size:14.50px;font-family:'Liberation Sans',sans-serif;color:#2a2424;transform:scale(1.1401,1.0000);">32</div>
<div id="ea2" class="t" style="left:709.46px;top:664.54px;font-size:14.50px;font-family:'Liberation Sans',sans-serif;color:#2a2424;transform:scale(1.1051,1.0000);">36.5</div>
<div id="eb2" class="t" style="left:762.78px;top:664.54px;font-size:14.50px;font-family:'Liberation Sans',sans-serif;color:#2a2424;transform:scale(1.0992,1.0000);">79.3</div>
<div id="ed2" class="t" style="left:814.87px;top:664.54px;font-size:14.50px;font-family:'Liberation Sans',sans-serif;color:#2a2424;transform:scale(1.0745,1.0000);">M16x2</div>
<div id="ff2" class="t" style="left:889.94px;top:664.54px;font-size:14.50px;font-family:'Liberation Sans',sans-serif;color:#2a2424;transform:scale(1.1322,1.0000);">38</div>
</body></html>
